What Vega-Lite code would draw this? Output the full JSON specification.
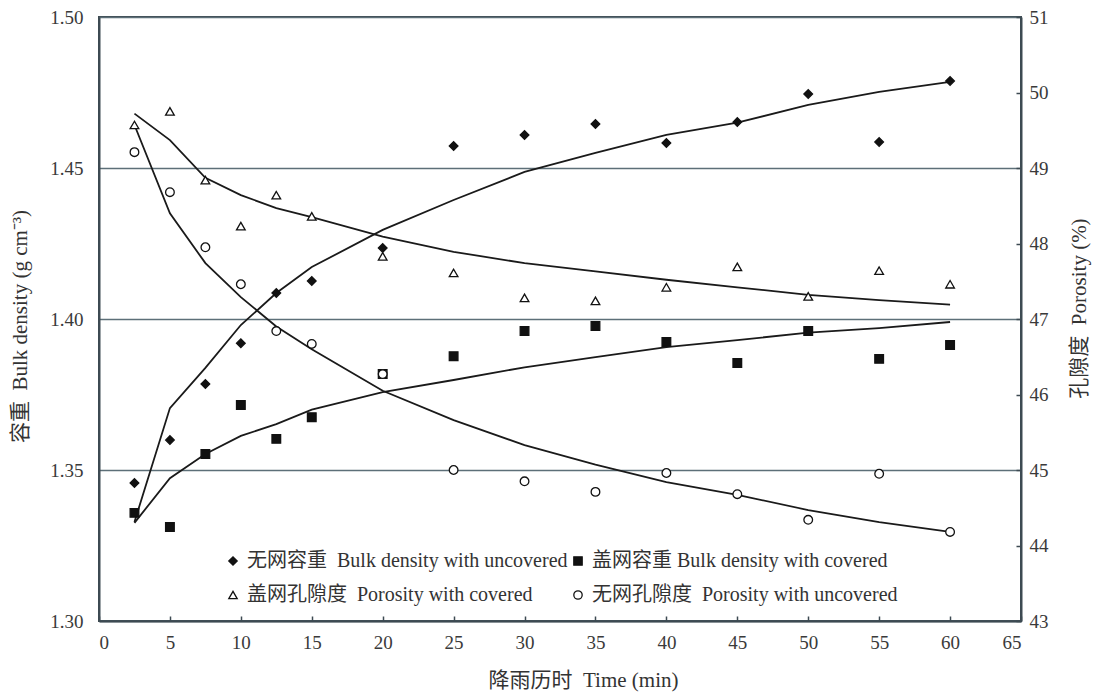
{
  "$schema": "https://vega.github.io/schema/vega-lite/v6.json",
  "width": 922,
  "height": 604,
  "autosize": {"type": "none"},
  "padding": {"left": 99, "top": 17, "right": 74, "bottom": 75},
  "background": "white",
  "config": {
    "font": "Liberation Serif, Noto Sans CJK SC",
    "view": {"stroke": "#3d4a52", "strokeWidth": 2},
    "axis": {
      "labelFont": "Liberation Serif",
      "labelFontSize": 19,
      "labelColor": "#3a3a3a",
      "titleFont": "Liberation Serif, Noto Sans CJK SC",
      "titleFontSize": 21,
      "titleFontWeight": "normal",
      "titleColor": "#333",
      "domainColor": "#3d4a52",
      "domainWidth": 2,
      "tickColor": "#3d4a52",
      "tickWidth": 1.5
    },
    "legend": {
      "labelFont": "Liberation Serif, Noto Sans CJK SC",
      "labelFontSize": 20,
      "labelColor": "#333"
    }
  },
  "datasets": {
    "bulk": [
      {"t": 2.5, "series": "无网容重\u00a0\u00a0Bulk density with uncovered", "obs": 1.3457, "fit": 1.3328},
      {"t": 5, "series": "无网容重\u00a0\u00a0Bulk density with uncovered", "obs": 1.3599, "fit": 1.3705},
      {"t": 7.5, "series": "无网容重\u00a0\u00a0Bulk density with uncovered", "obs": 1.3785, "fit": 1.3838},
      {"t": 10, "series": "无网容重\u00a0\u00a0Bulk density with uncovered", "obs": 1.392, "fit": 1.398},
      {"t": 12.5, "series": "无网容重\u00a0\u00a0Bulk density with uncovered", "obs": 1.4086, "fit": 1.4086},
      {"t": 15, "series": "无网容重\u00a0\u00a0Bulk density with uncovered", "obs": 1.4126, "fit": 1.4172},
      {"t": 20, "series": "无网容重\u00a0\u00a0Bulk density with uncovered", "obs": 1.4235, "fit": 1.4295},
      {"t": 25, "series": "无网容重\u00a0\u00a0Bulk density with uncovered", "obs": 1.4573, "fit": 1.4394},
      {"t": 30, "series": "无网容重\u00a0\u00a0Bulk density with uncovered", "obs": 1.4609, "fit": 1.4487},
      {"t": 35, "series": "无网容重\u00a0\u00a0Bulk density with uncovered", "obs": 1.4646, "fit": 1.455},
      {"t": 40, "series": "无网容重\u00a0\u00a0Bulk density with uncovered", "obs": 1.4583, "fit": 1.461},
      {"t": 45, "series": "无网容重\u00a0\u00a0Bulk density with uncovered", "obs": 1.4652, "fit": 1.465},
      {"t": 50, "series": "无网容重\u00a0\u00a0Bulk density with uncovered", "obs": 1.4745, "fit": 1.4709},
      {"t": 55, "series": "无网容重\u00a0\u00a0Bulk density with uncovered", "obs": 1.4586, "fit": 1.4752},
      {"t": 60, "series": "无网容重\u00a0\u00a0Bulk density with uncovered", "obs": 1.4788, "fit": 1.4785},
      {"t": 2.5, "series": "盖网容重 Bulk density with covered", "obs": 1.3358, "fit": 1.3325},
      {"t": 5, "series": "盖网容重 Bulk density with covered", "obs": 1.3311, "fit": 1.3473},
      {"t": 7.5, "series": "盖网容重 Bulk density with covered", "obs": 1.3553, "fit": 1.3553},
      {"t": 10, "series": "盖网容重 Bulk density with covered", "obs": 1.3715, "fit": 1.3613},
      {"t": 12.5, "series": "盖网容重 Bulk density with covered", "obs": 1.3603, "fit": 1.3652},
      {"t": 15, "series": "盖网容重 Bulk density with covered", "obs": 1.3675, "fit": 1.37},
      {"t": 20, "series": "盖网容重 Bulk density with covered", "obs": 1.3818, "fit": 1.3758},
      {"t": 25, "series": "盖网容重 Bulk density with covered", "obs": 1.3877, "fit": 1.3798},
      {"t": 30, "series": "盖网容重 Bulk density with covered", "obs": 1.396, "fit": 1.384},
      {"t": 35, "series": "盖网容重 Bulk density with covered", "obs": 1.3977, "fit": 1.3874},
      {"t": 40, "series": "盖网容重 Bulk density with covered", "obs": 1.3924, "fit": 1.3907},
      {"t": 45, "series": "盖网容重 Bulk density with covered", "obs": 1.3854, "fit": 1.393},
      {"t": 50, "series": "盖网容重 Bulk density with covered", "obs": 1.396, "fit": 1.3955},
      {"t": 55, "series": "盖网容重 Bulk density with covered", "obs": 1.3868, "fit": 1.397},
      {"t": 60, "series": "盖网容重 Bulk density with covered", "obs": 1.3914, "fit": 1.399}
    ],
    "por": [
      {"t": 2.5, "series": "盖网孔隙度\u00a0\u00a0Porosity with covered", "obs": 49.57, "fit": 49.72},
      {"t": 5, "series": "盖网孔隙度\u00a0\u00a0Porosity with covered", "obs": 49.75, "fit": 49.37},
      {"t": 7.5, "series": "盖网孔隙度\u00a0\u00a0Porosity with covered", "obs": 48.84, "fit": 48.87},
      {"t": 10, "series": "盖网孔隙度\u00a0\u00a0Porosity with covered", "obs": 48.23, "fit": 48.64},
      {"t": 12.5, "series": "盖网孔隙度\u00a0\u00a0Porosity with covered", "obs": 48.64, "fit": 48.47},
      {"t": 15, "series": "盖网孔隙度\u00a0\u00a0Porosity with covered", "obs": 48.36, "fit": 48.35},
      {"t": 20, "series": "盖网孔隙度\u00a0\u00a0Porosity with covered", "obs": 47.83, "fit": 48.09},
      {"t": 25, "series": "盖网孔隙度\u00a0\u00a0Porosity with covered", "obs": 47.61, "fit": 47.89},
      {"t": 30, "series": "盖网孔隙度\u00a0\u00a0Porosity with covered", "obs": 47.28, "fit": 47.74},
      {"t": 35, "series": "盖网孔隙度\u00a0\u00a0Porosity with covered", "obs": 47.24, "fit": 47.63},
      {"t": 40, "series": "盖网孔隙度\u00a0\u00a0Porosity with covered", "obs": 47.42, "fit": 47.52},
      {"t": 45, "series": "盖网孔隙度\u00a0\u00a0Porosity with covered", "obs": 47.69, "fit": 47.42},
      {"t": 50, "series": "盖网孔隙度\u00a0\u00a0Porosity with covered", "obs": 47.3, "fit": 47.32},
      {"t": 55, "series": "盖网孔隙度\u00a0\u00a0Porosity with covered", "obs": 47.64, "fit": 47.25},
      {"t": 60, "series": "盖网孔隙度\u00a0\u00a0Porosity with covered", "obs": 47.46, "fit": 47.19},
      {"t": 2.5, "series": "无网孔隙度\u00a0\u00a0Porosity with uncovered", "obs": 49.21, "fit": 49.57},
      {"t": 5, "series": "无网孔隙度\u00a0\u00a0Porosity with uncovered", "obs": 48.68, "fit": 48.4},
      {"t": 7.5, "series": "无网孔隙度\u00a0\u00a0Porosity with uncovered", "obs": 47.95, "fit": 47.74},
      {"t": 10, "series": "无网孔隙度\u00a0\u00a0Porosity with uncovered", "obs": 47.46, "fit": 47.29},
      {"t": 12.5, "series": "无网孔隙度\u00a0\u00a0Porosity with uncovered", "obs": 46.84, "fit": 46.9},
      {"t": 15, "series": "无网孔隙度\u00a0\u00a0Porosity with uncovered", "obs": 46.67, "fit": 46.6},
      {"t": 20, "series": "无网孔隙度\u00a0\u00a0Porosity with uncovered", "obs": 46.27, "fit": 46.05},
      {"t": 25, "series": "无网孔隙度\u00a0\u00a0Porosity with uncovered", "obs": 45.0, "fit": 45.66},
      {"t": 30, "series": "无网孔隙度\u00a0\u00a0Porosity with uncovered", "obs": 44.85, "fit": 45.33},
      {"t": 35, "series": "无网孔隙度\u00a0\u00a0Porosity with uncovered", "obs": 44.71, "fit": 45.07},
      {"t": 40, "series": "无网孔隙度\u00a0\u00a0Porosity with uncovered", "obs": 44.96, "fit": 44.84},
      {"t": 45, "series": "无网孔隙度\u00a0\u00a0Porosity with uncovered", "obs": 44.68, "fit": 44.67},
      {"t": 50, "series": "无网孔隙度\u00a0\u00a0Porosity with uncovered", "obs": 44.34, "fit": 44.47},
      {"t": 55, "series": "无网孔隙度\u00a0\u00a0Porosity with uncovered", "obs": 44.95, "fit": 44.31},
      {"t": 60, "series": "无网孔隙度\u00a0\u00a0Porosity with uncovered", "obs": 44.18, "fit": 44.18}
    ]
  },
  "layer": [
    {
      "data": {"name": "bulk"},
      "layer": [
        {
          "mark": {"type": "line", "color": "#1a1a1a", "strokeWidth": 1.8},
          "encoding": {
            "x": {"field": "t", "type": "quantitative", "scale": {"domain": [0, 65], "nice": false},
              "axis": {"values": [0, 5, 10, 15, 20, 25, 30, 35, 40, 45, 50, 55, 60, 65], "title": "降雨历时\u00a0\u00a0Time (min)", "grid": false, "tickSize": -5, "labelPadding": 17, "titleX": 484, "titleY": 59, "titleBaseline": "middle"}},
            "y": {"field": "fit", "type": "quantitative", "scale": {"domain": [1.3, 1.5], "nice": false, "zero": false},
              "axis": {"values": [1.3, 1.35, 1.4, 1.45, 1.5], "format": ".2f", "title": "容重\u00a0\u00a0Bulk density (g cm⁻³)", "grid": true, "gridColor": "#5d6f78", "gridWidth": 1.5, "tickSize": 0, "labelPadding": 16, "titleX": -79, "titleY": 309, "titleBaseline": "middle", "titleAngle": 270}},
            "detail": {"field": "series", "type": "nominal"}
          }
        },
        {
          "mark": {"type": "point", "strokeWidth": 1.3, "opacity": 1, "size": 75},
          "encoding": {
            "x": {"field": "t", "type": "quantitative"},
            "y": {"field": "obs", "type": "quantitative"},
            "shape": {"field": "series", "type": "nominal",
              "scale": {"domain": ["无网容重\u00a0\u00a0Bulk density with uncovered", "盖网容重 Bulk density with covered", "盖网孔隙度\u00a0\u00a0Porosity with covered", "无网孔隙度\u00a0\u00a0Porosity with uncovered"], "range": ["diamond", "square", "triangle-up", "circle"]},
              "legend": {"title": null, "orient": "none", "legendX": 124, "legendY": 534, "direction": "horizontal", "columns": 2, "rowPadding": 14, "columnPadding": 0, "labelLimit": 500, "labelOffset": 4, "symbolSize": 70, "symbolStrokeWidth": 1.3}},
            "fill": {"field": "series", "type": "nominal",
              "scale": {"domain": ["无网容重\u00a0\u00a0Bulk density with uncovered", "盖网容重 Bulk density with covered", "盖网孔隙度\u00a0\u00a0Porosity with covered", "无网孔隙度\u00a0\u00a0Porosity with uncovered"], "range": ["#111", "#111", "white", "white"]},
              "legend": {"title": null, "orient": "none", "legendX": 124, "legendY": 534, "direction": "horizontal", "columns": 2, "rowPadding": 14, "columnPadding": 0, "labelLimit": 500, "labelOffset": 4, "symbolSize": 70, "symbolStrokeWidth": 1.3}},
            "stroke": {"field": "series", "type": "nominal",
              "scale": {"domain": ["无网容重\u00a0\u00a0Bulk density with uncovered", "盖网容重 Bulk density with covered", "盖网孔隙度\u00a0\u00a0Porosity with covered", "无网孔隙度\u00a0\u00a0Porosity with uncovered"], "range": ["#111", "#111", "#111", "#111"]},
              "legend": {"title": null, "orient": "none", "legendX": 124, "legendY": 534, "direction": "horizontal", "columns": 2, "rowPadding": 14, "columnPadding": 0, "labelLimit": 500, "labelOffset": 4, "symbolSize": 70, "symbolStrokeWidth": 1.3}}
          }
        }
      ]
    },
    {
      "data": {"name": "por"},
      "layer": [
        {
          "mark": {"type": "line", "color": "#1a1a1a", "strokeWidth": 1.8},
          "encoding": {
            "x": {"field": "t", "type": "quantitative"},
            "y": {"field": "fit", "type": "quantitative", "scale": {"domain": [43, 51], "nice": false, "zero": false},
              "axis": {"orient": "right", "values": [43, 44, 45, 46, 47, 48, 49, 50, 51], "format": "d", "title": "孔隙度\u00a0\u00a0Porosity (%)", "grid": false, "tickSize": -5, "labelPadding": 13, "titleX": 58, "titleY": 291, "titleBaseline": "middle", "titleAngle": 270}},
            "detail": {"field": "series", "type": "nominal"}
          }
        },
        {
          "mark": {"type": "point", "strokeWidth": 1.3, "opacity": 1, "size": 75},
          "encoding": {
            "x": {"field": "t", "type": "quantitative"},
            "y": {"field": "obs", "type": "quantitative"},
            "shape": {"field": "series", "type": "nominal",
              "scale": {"domain": ["无网容重\u00a0\u00a0Bulk density with uncovered", "盖网容重 Bulk density with covered", "盖网孔隙度\u00a0\u00a0Porosity with covered", "无网孔隙度\u00a0\u00a0Porosity with uncovered"], "range": ["diamond", "square", "triangle-up", "circle"]},
              "legend": {"title": null, "orient": "none", "legendX": 124, "legendY": 534, "direction": "horizontal", "columns": 2, "rowPadding": 14, "columnPadding": 0, "labelLimit": 500, "labelOffset": 4, "symbolSize": 70, "symbolStrokeWidth": 1.3}},
            "fill": {"field": "series", "type": "nominal",
              "scale": {"domain": ["无网容重\u00a0\u00a0Bulk density with uncovered", "盖网容重 Bulk density with covered", "盖网孔隙度\u00a0\u00a0Porosity with covered", "无网孔隙度\u00a0\u00a0Porosity with uncovered"], "range": ["#111", "#111", "white", "white"]},
              "legend": {"title": null, "orient": "none", "legendX": 124, "legendY": 534, "direction": "horizontal", "columns": 2, "rowPadding": 14, "columnPadding": 0, "labelLimit": 500, "labelOffset": 4, "symbolSize": 70, "symbolStrokeWidth": 1.3}},
            "stroke": {"field": "series", "type": "nominal",
              "scale": {"domain": ["无网容重\u00a0\u00a0Bulk density with uncovered", "盖网容重 Bulk density with covered", "盖网孔隙度\u00a0\u00a0Porosity with covered", "无网孔隙度\u00a0\u00a0Porosity with uncovered"], "range": ["#111", "#111", "#111", "#111"]},
              "legend": {"title": null, "orient": "none", "legendX": 124, "legendY": 534, "direction": "horizontal", "columns": 2, "rowPadding": 14, "columnPadding": 0, "labelLimit": 500, "labelOffset": 4, "symbolSize": 70, "symbolStrokeWidth": 1.3}}
          }
        }
      ]
    }
  ],
  "resolve": {"scale": {"y": "independent"}}
}
